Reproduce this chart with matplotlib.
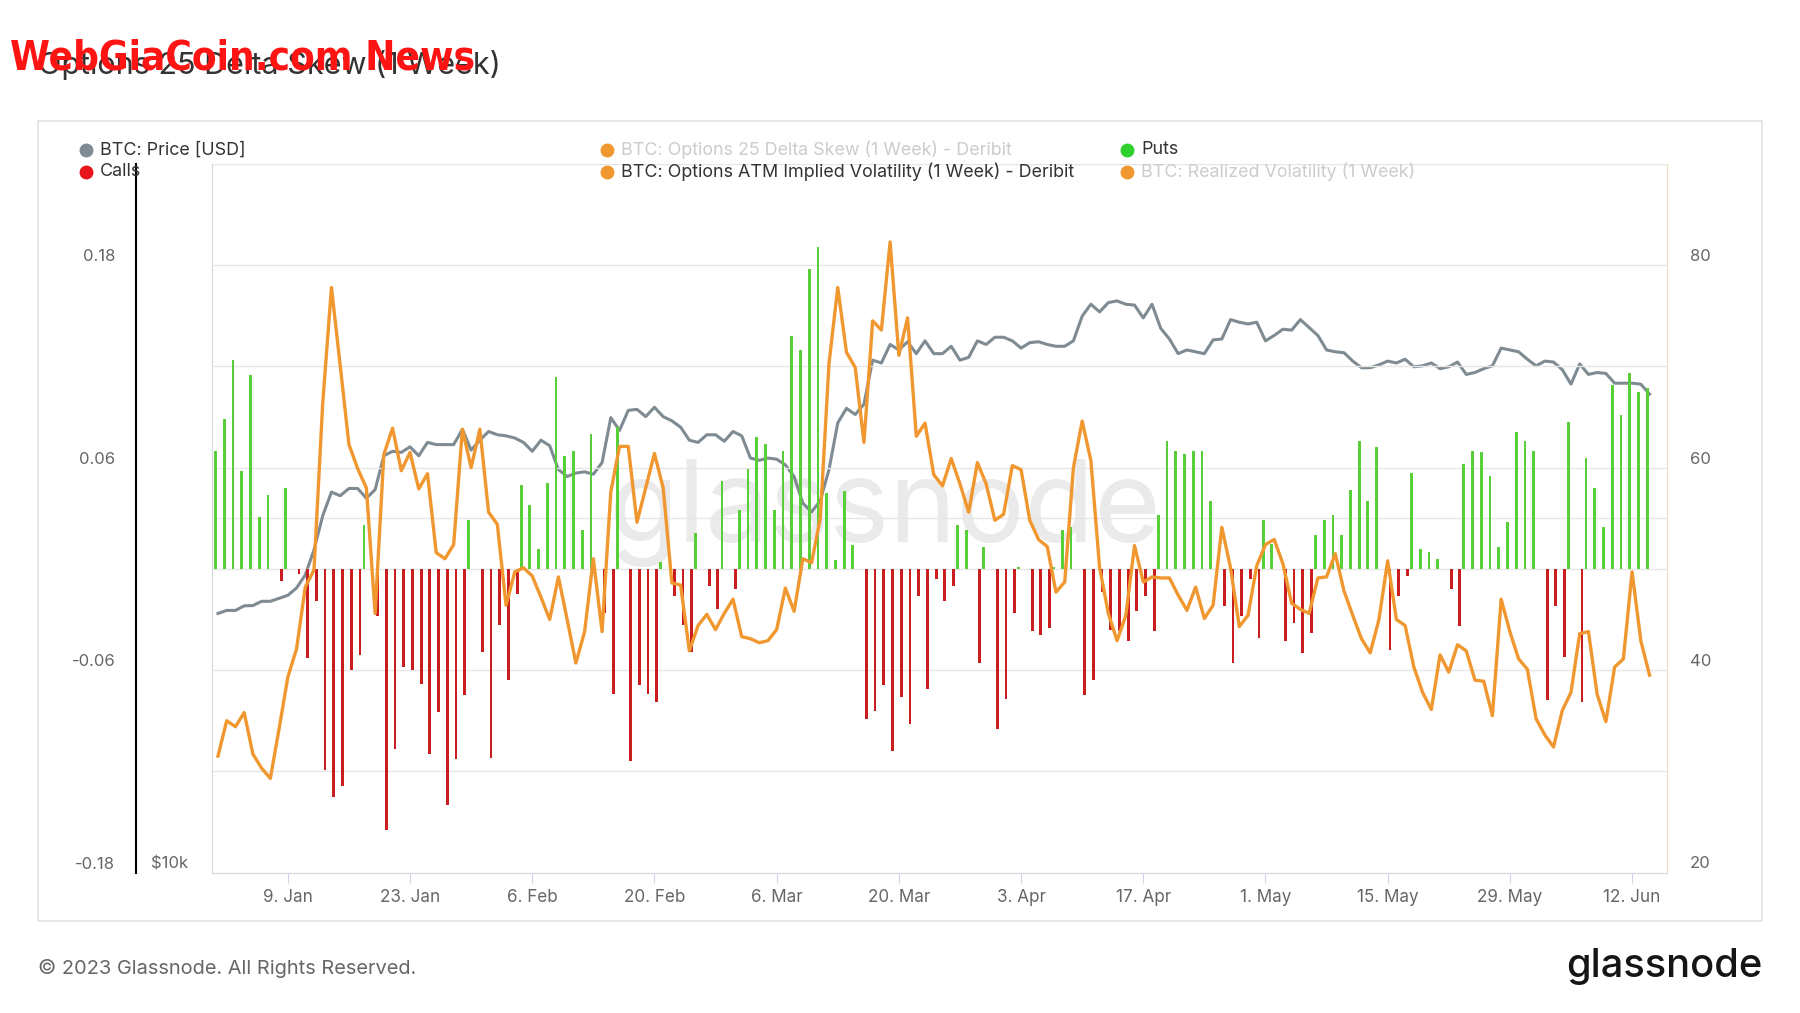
import numpy as np
import pandas as pd
import matplotlib
matplotlib.use('Agg')
import matplotlib.pyplot as plt
import matplotlib.dates as mdates
from matplotlib.lines import Line2D
from matplotlib.patches import Rectangle
from matplotlib.ticker import NullLocator
from matplotlib.transforms import ScaledTranslation

plt.rcParams['font.family'] = ['Inter', 'DejaVu Sans']

# Daily values, 1 Jan 2023 - 14 Jun 2023
dates = pd.date_range('2023-01-01', '2023-06-14', freq='D')

skew_25d = [
    0.070, 0.089, 0.124, 0.058, 0.115, 0.031, 0.044, -0.007, 0.048, -0.003,
    -0.053, -0.019, -0.119, -0.135, -0.129, -0.060, -0.051, 0.026, -0.028, -0.155,
    -0.107, -0.058, -0.060, -0.068, -0.110, -0.085, -0.140, -0.113, -0.075, 0.029,
    -0.049, -0.112, -0.033, -0.066, -0.015, 0.050, 0.038, 0.012, 0.051, 0.114,
    0.067, 0.070, 0.023, 0.080, -0.026, -0.074, 0.084, -0.114, -0.069, -0.074,
    -0.079, 0.004, -0.016, -0.033, -0.049, 0.021, -0.010, -0.024, 0.052, -0.012,
    0.035, 0.059, 0.078, 0.074, 0.035, 0.070, 0.138, 0.130, 0.178, 0.191,
    0.045, 0.005, 0.046, 0.014, -0.089, -0.084, -0.069, -0.108, -0.076, -0.092,
    -0.016, -0.071, -0.006, -0.019, -0.010, 0.026, 0.023, -0.056, 0.013, -0.095,
    -0.077, -0.026, 0.001, -0.037, -0.039, -0.035, 0.001, 0.023, 0.025, -0.075,
    -0.066, -0.014, -0.036, -0.037, -0.043, -0.025, -0.016, -0.037, 0.032, 0.076,
    0.070, 0.068, 0.070, 0.070, 0.040, -0.022, -0.056, -0.028, -0.006, -0.041,
    0.029, 0.015, -0.043, -0.032, -0.050, -0.038, 0.020, 0.029, 0.032, 0.020,
    0.047, 0.076, 0.040, 0.072, -0.048, -0.016, -0.004, 0.057, 0.012, 0.010,
    0.006, -0.012, -0.034, 0.062, 0.070, 0.069, 0.055, 0.013, 0.028, 0.081,
    0.076, 0.070, -0.078, -0.022, -0.052, 0.087, -0.079, 0.066, 0.048, 0.025,
    0.109, 0.091, 0.116, 0.105, 0.107,
]

atm_iv = [
    31.5, 35.0, 34.4, 35.8, 31.7, 30.3, 29.3, 34.2, 39.3, 42.1,
    48.2, 49.9, 66.4, 77.8, 70.1, 62.3, 59.9, 58.0, 45.6, 61.3,
    63.9, 59.7, 61.5, 57.9, 59.4, 51.6, 51.0, 52.4, 63.8, 60.0,
    63.8, 55.6, 54.4, 46.4, 49.7, 50.1, 49.3, 47.2, 45.0, 49.2,
    45.0, 40.7, 43.8, 51.0, 43.8, 57.6, 62.1, 62.1, 54.6, 58.0,
    61.4, 58.0, 48.6, 48.4, 41.9, 44.4, 45.5, 44.0, 45.6, 47.0,
    43.3, 43.1, 42.7, 42.9, 44.0, 48.1, 45.8, 51.0, 50.6, 55.0,
    70.3, 77.8, 71.4, 69.9, 62.5, 74.5, 73.6, 82.3, 71.1, 74.8,
    63.1, 64.4, 59.3, 58.2, 60.9, 58.4, 55.6, 60.5, 58.4, 54.8,
    55.4, 60.2, 59.8, 54.8, 52.9, 52.2, 47.7, 48.7, 60.0, 64.6,
    60.7, 50.1, 45.6, 42.9, 45.4, 52.3, 48.7, 49.2, 49.1, 49.1,
    47.4, 45.9, 48.2, 45.1, 46.4, 54.1, 50.1, 44.3, 45.4, 50.3,
    52.4, 52.9, 50.5, 46.6, 46.0, 45.6, 49.1, 49.2, 51.5, 47.8,
    45.4, 43.1, 41.7, 45.0, 50.8, 45.0, 44.4, 40.3, 37.8, 36.1,
    41.5, 39.8, 42.5, 41.9, 39.0, 38.9, 35.5, 47.0, 43.8, 41.1,
    40.1, 35.2, 33.6, 32.4, 36.0, 37.8, 43.6, 43.8, 37.6, 34.9,
    40.3, 41.1, 49.7, 42.9, 39.5,
]

# BTC price in thousands of USD
price_k = [
    16.6, 16.7, 16.7, 16.85, 16.86, 17.0, 17.0, 17.1, 17.2, 17.45,
    17.9, 18.8, 20.1, 21.05, 20.9, 21.2, 21.2, 20.8, 21.15, 22.6,
    22.8, 22.75, 23.0, 22.6, 23.2, 23.1, 23.1, 23.1, 23.8, 22.85,
    23.3, 23.7, 23.55, 23.5, 23.4, 23.2, 22.8, 23.3, 23.05, 22.0,
    21.7, 21.85, 21.9, 21.8, 22.3, 24.35, 23.75, 24.7, 24.75, 24.4,
    24.85, 24.4, 24.2, 23.9, 23.3, 23.2, 23.55, 23.55, 23.25, 23.7,
    23.5, 22.5, 22.4, 22.5, 22.45, 22.2, 21.7, 20.6, 20.25, 20.7,
    22.0, 24.1, 24.8, 24.5, 25.0, 27.25, 27.1, 28.1, 27.8, 28.25,
    27.6, 28.3, 27.6, 27.6, 28.0, 27.25, 27.4, 28.3, 28.1, 28.5,
    28.5, 28.3, 27.9, 28.2, 28.25, 28.1, 28.0, 28.0, 28.3, 29.7,
    30.4, 29.95, 30.5, 30.6, 30.4, 30.35, 29.6, 30.4, 29.0, 28.4,
    27.6, 27.8, 27.7, 27.6, 28.35, 28.4, 29.5, 29.35, 29.25, 29.35,
    28.3, 28.6, 28.95, 28.9, 29.5, 29.05, 28.6, 27.8, 27.7, 27.65,
    27.2, 26.85, 26.85, 27.0, 27.2, 27.1, 27.3, 26.9, 26.95, 27.1,
    26.8, 26.9, 27.15, 26.5, 26.6, 26.8, 26.95, 27.9, 27.8, 27.7,
    27.3, 26.95, 27.2, 27.15, 26.75, 26.0, 27.05, 26.5, 26.6, 26.55,
    26.05, 26.05, 26.05, 26.0, 25.5,
]

x_ticks = pd.date_range('2023-01-09', '2023-06-12', freq='14D')
x_labels = [f'{d.day}. {d:%b}' for d in x_ticks]

C_PRICE = '#7f8b92'
C_IV = '#f0972f'
C_PUT = '#58cf39'
C_CALL = '#c91d1f'
C_TEXT = '#666666'

skew = np.array(skew_25d)
puts = np.where(skew > 0, skew, 0.0)
calls = np.where(skew < 0, skew, 0.0)
xd = mdates.date2num(dates)

fig = plt.figure(figsize=(18, 10.13), dpi=100)
fig.patch.set_facecolor('white')

rect = [212.4 / 1800, 1 - 872.5 / 1013, (1667 - 212.4) / 1800, (872.5 - 164) / 1013]
ax = fig.add_axes(rect)
ax_p = ax.twinx()
ax2 = ax.twinx()
ax_p.set_zorder(1)
ax.set_zorder(2)
ax2.set_zorder(3)
ax.patch.set_visible(False)
ax_p.patch.set_visible(True)
ax_p.patch.set_facecolor('white')

# skew bars (puts / calls side by side)
ax.bar(xd - 0.27, puts, width=0.32, color=C_PUT, zorder=2)
ax.bar(xd + 0.27, calls, width=0.32, color=C_CALL, zorder=2)
ax.set_ylim(-0.18, 0.24)
ax.set_xlim(xd[0] - 0.64, xd[0] + 166)
ax.set_yticks([-0.18, -0.06, 0.06, 0.18])
ax.set_yticklabels(['-0.18', '-0.06', '0.06', '0.18'])
ax.set_yticks([-0.12, 0.0, 0.12, 0.24], minor=True)
ax.grid(axis='y', which='both', color='#e6e6e6', lw=1)
ax.set_axisbelow(True)
ax.tick_params(axis='y', which='both', length=0, pad=70, labelsize=12, labelcolor=C_TEXT)
ax.set_xticks(mdates.date2num(x_ticks))
ax.set_xticklabels(x_labels)
ax.tick_params(axis='x', length=7, color='#ccd6eb', pad=5, labelsize=12.3, labelcolor=C_TEXT)
for s in ['top', 'right']:
    ax.spines[s].set_visible(False)
ax.spines['left'].set_color('#d8d8d8')
ax.spines['bottom'].set_color('#d8d8d8')

# price (log scale, hidden axis with only $10k shown)
ax_p.set_yscale('log')
ax_p.plot(xd, np.array(price_k) * 1000, color=C_PRICE, lw=2.2, zorder=3)
ax_p.set_ylim(1e4, 4e4)
ax_p.axhline(2e4, color='#e6e6e6', lw=1, zorder=1)
ax_p.yaxis.set_minor_locator(NullLocator())
ax_p.set_yticks([1e4])
ax_p.set_yticklabels(['$10k'])
ax_p.tick_params(axis='y', which='both', length=0, pad=11.5, labelsize=12, labelcolor=C_TEXT)
for s in ['top', 'left', 'bottom']:
    ax_p.spines[s].set_visible(False)
ax_p.spines['right'].set_position(('axes', (135.5 - 212.4) / (1667 - 212.4)))
ax_p.spines['right'].set_color('black')
ax_p.spines['right'].set_linewidth(1.5)
ax_p.text(0.462, 0.507, 'glassnode', transform=ax_p.transAxes, fontsize=82,
          color='#eaeaea', ha='center', va='center', zorder=0)

# implied volatility
ax2.plot(xd, atm_iv, color=C_IV, lw=2.4, zorder=3)
ax2.set_ylim(20, 90)
ax2.set_yticks([20, 40, 60, 80])
ax2.tick_params(axis='y', length=0, pad=16.5, labelsize=12, labelcolor=C_TEXT)
for s in ['top', 'left', 'bottom']:
    ax2.spines[s].set_visible(False)
ax2.spines['right'].set_color('#f2dcc2')

# lift the y labels a little above their grid lines
offset = ScaledTranslation(0, 0.10, fig.dpi_scale_trans)
for a in (ax, ax_p, ax2):
    for lab in a.get_yticklabels():
        lab.set_transform(lab.get_transform() + offset)

# frame around the chart
fig.patches.append(Rectangle((38 / 1800, 1 - 921 / 1013), (1762 - 38) / 1800, (921 - 121) / 1013,
                             transform=fig.transFigure, fill=False, ec='#e3e3e3', lw=1.2))

# legend
legend_items = [
    (86, 150, C_PRICE, 'BTC: Price [USD]', '#333333'),
    (607, 150, C_IV, 'BTC: Options 25 Delta Skew (1 Week) - Deribit', '#cccccc'),
    (1127, 150, '#2ed12e', 'Puts', '#333333'),
    (86, 172, '#e8141b', 'Calls', '#333333'),
    (607, 172, C_IV, 'BTC: Options ATM Implied Volatility (1 Week) - Deribit', '#333333'),
    (1127, 172, C_IV, 'BTC: Realized Volatility (1 Week)', '#cccccc'),
]
for px, py, col, label, tcol in legend_items:
    fig.add_artist(Line2D([px / 1800], [1 - py / 1013], marker='o', markersize=9,
                          color=col, transform=fig.transFigure))
    fig.text((px + 14) / 1800, 1 - py / 1013, label, fontsize=12.9, color=tcol, va='center')

# titles and footer
fig.text(38 / 1800, 1 - 65 / 1013, 'Options 25 Delta Skew (1 Week)', fontsize=22,
         color='#333333', va='center')
fig.text(10 / 1800, 1 - 58 / 1013, 'WebGiaCoin.com News',
         family=['Liberation Sans Narrow', 'DejaVu Sans'], stretch='condensed',
         weight='bold', fontsize=29, color='#ff1414', va='center')
fig.text(38 / 1800, 1 - 968 / 1013, '\u00a9 2023 Glassnode. All Rights Reserved.',
         fontsize=14.4, color=C_TEXT, va='center')
fig.text(1762 / 1800, 1 - 966 / 1013, 'glassnode', fontsize=28.7, weight='medium',
         color='#151515', ha='right', va='center')

fig.savefig('out.png', dpi=100)
